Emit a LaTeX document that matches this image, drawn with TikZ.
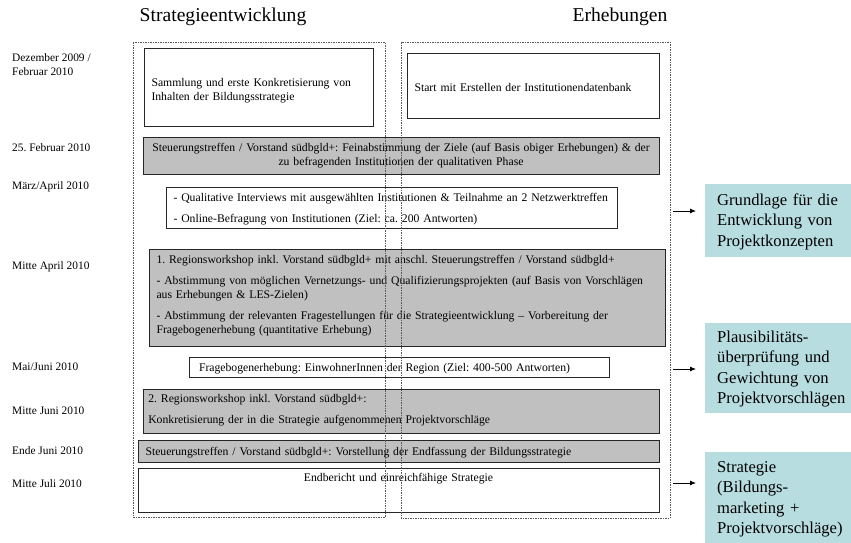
\documentclass[tikz,border=0pt]{standalone}
\usepackage{fontspec}
\setmainfont{Liberation Serif}
\usetikzlibrary{arrows.meta}
\frenchspacing
\definecolor{meetinggray}{RGB}{192,192,192}
\definecolor{resultcyan}{RGB}{183,221,224}
\tikzset{
  phase/.style={draw=black!85, line width=1pt, anchor=north, align=left,
    inner xsep=7.5pt, inner ysep=0pt, font=\fontsize{11.7}{14}\selectfont},
  meeting/.style={phase, fill=meetinggray},
  column/.style={draw=black!65, line width=0.6pt, dash pattern=on 1.5pt off 1pt},
  datum/.style={anchor=west, align=left, inner sep=0pt, font=\fontsize{11.4}{14}\selectfont},
  heading/.style={inner sep=0pt, font=\fontsize{19.6}{22}\selectfont},
  result/.style={fill=resultcyan, anchor=north west, align=left, inner xsep=12pt,
    inner ysep=0pt, text width=134pt, font=\fontsize{16.6}{20.5}\selectfont},
  resarrow/.style={-{Latex[length=6pt,width=5pt]}, line width=0.8pt, shorten >=9pt}
}

\begin{document}
\begin{tikzpicture}[x=1pt,y=-1pt]
\useasboundingbox (0,0) rectangle (851,542);

\node[heading] (strat) at (223,17) {Strategieentwicklung};
\node[heading] (erheb) at (620,17) {Erhebungen};

\foreach \y/\d/\n in {65/{Dezember 2009 /\\Februar 2010}/d1, 148/{25. Februar 2010}/d2,
    187/{März/April 2010}/d3, 267/{Mitte April 2010}/d4, 367/{Mai/Juni 2010}/d5,
    411/{Mitte Juni 2010}/d6, 451/{Ende Juni 2010}/d7, 484/{Mitte Juli 2010}/d8}
  \node[datum] (\n) at (12,\y) {\d};

\node[phase, text width=214pt, text height=38pt, text depth=40pt] (sammlung) at (258.5,48)
  {Sammlung und erste Konkretisierung von\\Inhalten der Bildungsstrategie};
\node[phase, text width=237pt, text height=38pt, text depth=27pt] (datenbank) at (533,53)
  {Start mit Erstellen der Institutionendatenbank};
\node[meeting, align=center, text width=501pt, text height=14pt, text depth=23pt] (steuer1) at (401,137)
  {Steuerungstreffen / Vorstand südbgld+: Feinabstimmung der Ziele (auf Basis obiger Erhebungen) \& der\\zu befragenden Institutionen der qualitativen Phase};
\node[phase, text width=436pt, text height=14pt, text depth=27pt] (quali) at (391.5,187)
  {- Qualitative Interviews mit ausgewählten Institutionen \& Teilnahme an 2 Netzwerktreffen\\[7pt]
   - Online-Befragung von Institutionen (Ziel: ca. 200 Antworten)};
\node[meeting, text width=501pt, text height=14pt, text depth=83pt] (regio1) at (407,249)
  {1. Regionsworkshop inkl. Vorstand südbgld+ mit anschl. Steuerungstreffen / Vorstand südbgld+\\[7pt]
   - Abstimmung von möglichen Vernetzungs- und Qualifizierungsprojekten (auf Basis von Vorschlägen\\aus Erhebungen \& LES-Zielen)\\[7pt]
   - Abstimmung der relevanten Fragestellungen für die Strategieentwicklung – Vorbereitung der\\Fragebogenerhebung (quantitative Erhebung)};
\node[phase, inner xsep=10pt, text width=400pt, text height=14pt, text depth=6pt] (frage) at (399,357)
  {Fragebogenerhebung: EinwohnerInnen der Region (Ziel: 400-500 Antworten)};
\node[meeting, inner xsep=5.3pt, text width=505.4pt, text height=13pt, text depth=31pt] (regio2) at (401,389)
  {2. Regionsworkshop inkl. Vorstand südbgld+:\\[7pt]
   Konkretisierung der in die Strategie aufgenommenen Projektvorschläge};
\node[meeting, text width=506pt, text height=15pt, text depth=7pt] (steuer2) at (398.5,440)
  {Steuerungstreffen / Vorstand südbgld+: Vorstellung der Endfassung der Bildungsstrategie};
\node[phase, align=center, text width=506pt, text height=13pt, text depth=31pt] (endbericht) at (398.5,468)
  {Endbericht und einreichfähige Strategie};

\draw[column] (133,42) rectangle (385,517);
\draw[column] (401,42) rectangle (670,518);

\node[result, text height=21pt, text depth=52pt] (grundlage) at (705,184)
  {Grundlage für die\\Entwicklung von\\Projektkonzepten};
\node[result, text height=19pt, text depth=71pt] (plausi) at (705,323)
  {Plausibilitäts-\\überprüfung und\\Gewichtung von\\Projektvorschlägen};
\node[result, text height=20pt, text depth=95pt] (strategie) at (705,452)
  {Strategie\\(Bildungs-\\marketing +\\Projektvorschläge)};

\coordinate (p1) at (673,211);
\coordinate (p2) at (673,369);
\coordinate (p3) at (673,483);
\draw[resarrow] (p1) -- (p1 -| grundlage.west);
\draw[resarrow] (p2) -- (p2 -| plausi.west);
\draw[resarrow] (p3) -- (p3 -| strategie.west);
\end{tikzpicture}
\end{document}
